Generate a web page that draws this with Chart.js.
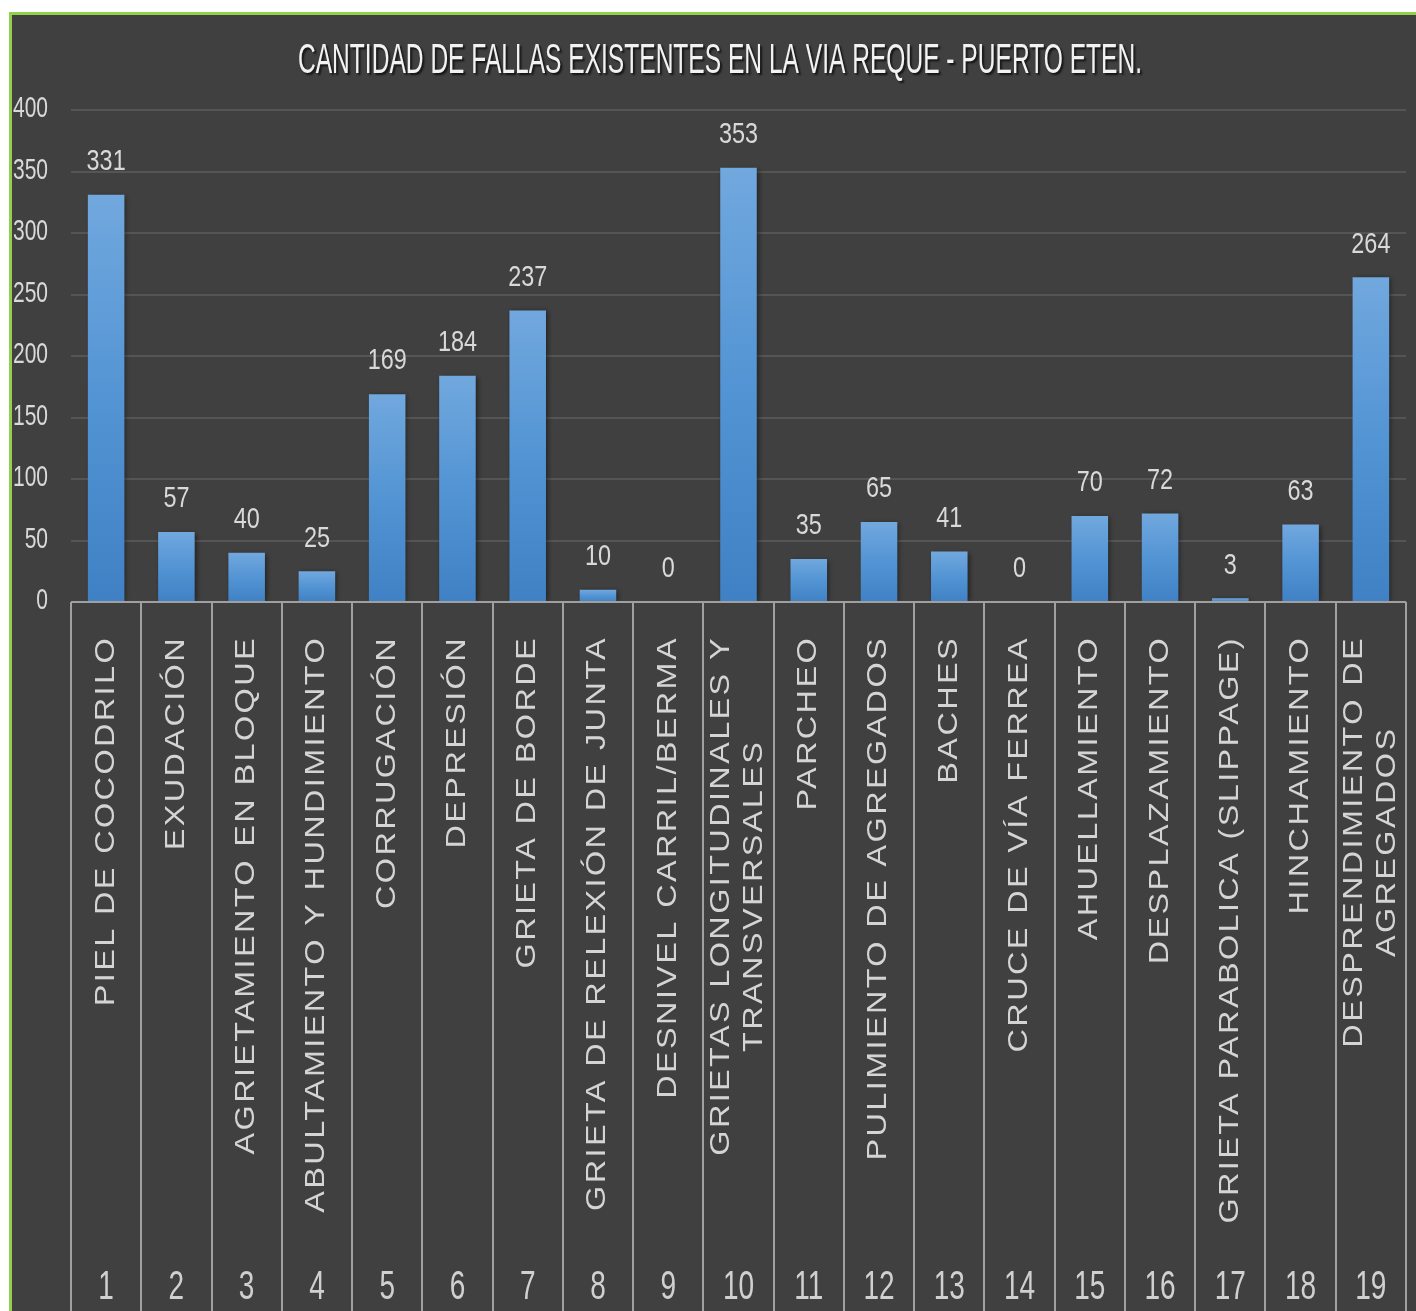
<!DOCTYPE html>
<html><head><meta charset="utf-8">
<script src="https://cdn.jsdelivr.net/npm/chart.js@4/dist/chart.umd.min.js"></script>
<style>html,body{margin:0;padding:0;background:#fff;overflow:hidden}#wrap{position:absolute;left:0;top:0;width:1416px;height:1311px}</style>
</head><body><div id="wrap"><canvas id="c"></canvas></div>
<script>
const chartTitle = "CANTIDAD DE FALLAS EXISTENTES EN LA VIA REQUE - PUERTO ETEN.";
const categoryNumbers = ["1","2","3","4","5","6","7","8","9","10","11","12","13","14","15","16","17","18","19"];
const categoryNames = [
  ["PIEL DE COCODRILO"],
  ["EXUDACIÓN"],
  ["AGRIETAMIENTO EN BLOQUE"],
  ["ABULTAMIENTO Y HUNDIMIENTO"],
  ["CORRUGACIÓN"],
  ["DEPRESIÓN"],
  ["GRIETA DE BORDE"],
  ["GRIETA DE RELEXIÓN DE JUNTA"],
  ["DESNIVEL CARRIL/BERMA"],
  ["GRIETAS LONGITUDINALES Y", "TRANSVERSALES"],
  ["PARCHEO"],
  ["PULIMIENTO DE AGREGADOS"],
  ["BACHES"],
  ["CRUCE DE VÍA FERREA"],
  ["AHUELLAMIENTO"],
  ["DESPLAZAMIENTO"],
  ["GRIETA PARABOLICA (SLIPPAGE)"],
  ["HINCHAMIENTO"],
  ["DESPRENDIMIENTO DE", "AGREGADOS"]
];
const faultCounts = [331, 57, 40, 25, 169, 184, 237, 10, 0, 353, 35, 65, 41, 0, 70, 72, 3, 63, 264];
const yMin = 0, yMax = 400, yStep = 50;

const NARROW = "'Liberation Sans Narrow', 'Liberation Sans', sans-serif";

function condText(ctx, text, x, y, sx, align) {
  ctx.save();
  ctx.translate(x, y);
  ctx.scale(sx, 1);
  ctx.textAlign = align;
  ctx.fillText(text, 0, 0);
  ctx.restore();
}

const framePlugin = {
  id: 'frame',
  beforeDraw(chart) {
    const ctx = chart.ctx;
    ctx.save();
    ctx.fillStyle = '#ffffff';
    ctx.fillRect(0, 0, chart.width, chart.height);
    ctx.fillStyle = '#92D050';
    ctx.fillRect(9, 12, chart.width - 9, chart.height - 12);
    ctx.fillStyle = '#404040';
    ctx.fillRect(12, 15, chart.width - 12, chart.height - 15);
    ctx.restore();
  },
  beforeDatasetsDraw(chart) {
    const ctx = chart.ctx;
    ctx.save();
    ctx.shadowColor = 'rgba(0,0,0,0.45)';
    ctx.shadowBlur = 5;
    ctx.shadowOffsetX = 2;
    ctx.shadowOffsetY = 1;
  },
  afterDatasetsDraw(chart) {
    chart.ctx.restore();
  },
  afterDraw(chart) {
    const ctx = chart.ctx;
    const xs = chart.scales.x, ys = chart.scales.y;
    const area = chart.chartArea;
    const n = categoryNumbers.length;
    const catW = (area.right - area.left) / n;
    ctx.save();
    // title
    ctx.font = "42px " + NARROW;
    ctx.fillStyle = '#f2f2f2';
    ctx.textBaseline = 'middle';
    ctx.shadowColor = 'rgba(0,0,0,0.7)';
    ctx.shadowOffsetX = 2; ctx.shadowOffsetY = 2; ctx.shadowBlur = 2;
    const tw = ctx.measureText(chartTitle).width;
    condText(ctx, chartTitle, 720, 61, 844 / tw, 'center');
    ctx.shadowColor = 'transparent';
    // y tick labels
    ctx.font = "30px " + NARROW;
    ctx.fillStyle = '#d9d9d9';
    ys.ticks.forEach(t => {
      const py = ys.getPixelForValue(t.value);
      condText(ctx, String(t.value), 48, py - 1, 0.7, 'right');
    });
    // data labels
    faultCounts.forEach((v, i) => {
      const px = xs.getPixelForValue(i);
      const py = ys.getPixelForValue(v);
      condText(ctx, String(v), px, py - 33, 0.78, 'center');
    });
    // category box lines
    ctx.strokeStyle = '#a0a0a0';
    ctx.lineWidth = 2;
    const base = ys.getPixelForValue(0);
    ctx.beginPath();
    ctx.moveTo(area.left, base); ctx.lineTo(area.right, base);
    for (let i = 0; i <= n; i++) {
      const bx = Math.round(area.left + i * catW);
      ctx.moveTo(bx, base); ctx.lineTo(bx, chart.height);
    }
    ctx.stroke();
    // category names (rotated, horizontally stretched)
    ctx.fillStyle = '#d4d4d4';
    ctx.font = "27px 'Liberation Sans', Arial, sans-serif";
    ctx.letterSpacing = '2px';
    const stretch = 1.2;
    const topY = 636, lineGap = 33;
    categoryNames.forEach((lines, i) => {
      const cx = xs.getPixelForValue(i);
      const widths = lines.map(l => ctx.measureText(l).width * stretch);
      const maxW = Math.max(...widths);
      const centerY = topY + maxW / 2;
      lines.forEach((l, k) => {
        const lx = cx + (k - (lines.length - 1) / 2) * lineGap;
        ctx.save();
        ctx.translate(lx, centerY);
        ctx.rotate(-Math.PI / 2);
        ctx.scale(stretch, 1);
        ctx.textAlign = 'center';
        ctx.textBaseline = 'middle';
        ctx.fillText(l, 0, 0);
        ctx.restore();
      });
    });
    ctx.letterSpacing = '0px';
    // category numbers
    ctx.font = "40px " + NARROW;
    ctx.fillStyle = '#d0d0d0';
    ctx.textBaseline = 'middle';
    categoryNumbers.forEach((num, i) => {
      condText(ctx, num, xs.getPixelForValue(i), 1288, 0.7, 'center');
    });
    ctx.restore();
  }
};

new Chart(document.getElementById('c'), {
  type: 'bar',
  data: {
    labels: categoryNumbers,
    datasets: [{
      data: faultCounts,
      barPercentage: 0.52,
      categoryPercentage: 1.0,
      borderWidth: 0,
      backgroundColor: (c) => {
        const chart = c.chart;
        if (!chart.chartArea || c.raw === undefined) return '#5b9bd5';
        const y = chart.scales.y;
        const top = y.getPixelForValue(c.raw);
        const base = y.getPixelForValue(0);
        if (base - top < 1) return '#5b9bd5';
        const g = chart.ctx.createLinearGradient(0, top, 0, base);
        g.addColorStop(0, '#71a8de');
        g.addColorStop(0.5, '#5394d4');
        g.addColorStop(1, '#3f81c4');
        return g;
      }
    }]
  },
  options: {
    responsive: true,
    maintainAspectRatio: false,
    animation: false,
    devicePixelRatio: 1,
    layout: { padding: { left: 71, right: 10, top: 110, bottom: 709 } },
    plugins: { legend: { display: false }, tooltip: { enabled: false }, title: { display: false } },
    scales: {
      x: {
        ticks: { display: false },
        grid: { display: false, drawTicks: false },
        border: { display: false }
      },
      y: {
        min: yMin, max: yMax,
        ticks: { display: false, stepSize: yStep },
        grid: { color: '#555555', lineWidth: 2, drawTicks: false },
        border: { display: false }
      }
    }
  },
  plugins: [framePlugin]
});
</script>
</body></html>
